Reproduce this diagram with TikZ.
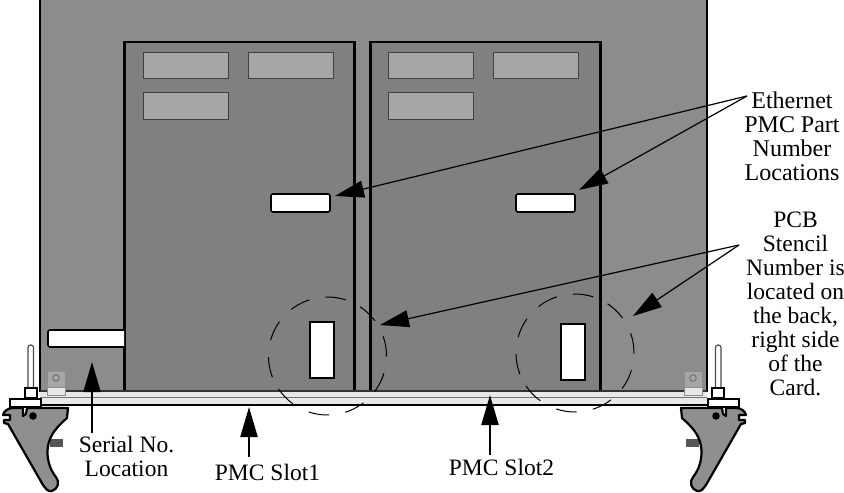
\documentclass[tikz,border=0pt]{standalone}
\usepackage{fontspec}
\setmainfont{Liberation Serif}
\usetikzlibrary{arrows.meta}
\definecolor{boardgray}{HTML}{8C8C8C}
\definecolor{pmcgray}{HTML}{808080}
\definecolor{labelgray}{HTML}{A6A6A6}
\definecolor{barlight}{HTML}{E8E8E8}
\definecolor{handlegray}{HTML}{8F8F8F}
\definecolor{tabdark}{HTML}{555555}
\tikzset{
  pmcboard/.style={fill=pmcgray,draw=black,line width=2.5pt},
  graylabel/.style={fill=labelgray,draw=black!75,line width=1pt},
  whitelabel/.style={fill=white,draw=black,line width=1.6pt,rounded corners=2pt},
  whiteslot/.style={fill=white,draw=black,line width=2pt},
  stencil/.style={draw=black,line width=1pt},
  leader/.style={line width=1.2pt,-{Triangle[length=29pt,width=17pt]}},
  upleader/.style={line width=2.2pt,-{Triangle[length=30pt,width=17pt]}},
  caption/.style={font=\fontsize{23.5}{24}\selectfont,align=center,inner sep=0pt,anchor=base},
  bigcaption/.style={font=\fontsize{24}{24}\selectfont,align=center,inner sep=0pt,anchor=base}
}
\newcommand{\handleside}{%
  \fill[tabdark] (50,439) rectangle (63,447);
  \draw[fill=white,draw=black!70,line width=1.2pt,rounded corners=2.5pt] (28,390) -- (28,345) -- (33.5,345) -- (33.5,390);
  \draw[fill=white,draw=black,line width=1.2pt] (25,388) rectangle (37,398);
  \draw[fill=white,draw=black,line width=1.2pt] (10,399) rectangle (41,407);
  \draw[fill=handlegray,draw=black,line width=2.2pt,line join=round]
    (68,408) -- (67,418) .. controls (58,426) and (50,434) .. (48,446)
    .. controls (46,458) and (50,470) .. (56,477)
    .. controls (60,482) and (58,489) .. (52,491)
    .. controls (48,492) and (46,489) .. (43,485)
    -- (8,424) -- (4,423) -- (4,420) -- (10,420) -- (10,415) -- (3,415)
    .. controls (4,411) and (8,408) .. (13,408) -- (23,408) -- (23,416) -- (26,414) -- (27,408) -- cycle;
  \fill[black] (33,416) circle (3.8);
  \draw[fill=labelgray,draw=black!45,line width=0.8pt] (47,371) rectangle (65,395);
  \draw[fill=barlight,draw=black!45,line width=0.8pt] (47,387) rectangle (65,395);
  \draw[draw=black!60,line width=0.8pt] (56,378) circle (3.3);
}
\newcommand{\stencilring}[2]{%
  \foreach \a in {92,56.5,19.5,-17,-52.5,-88.5,-126,-159,164.5,128}{
    \draw[stencil] plot[domain=\a:\a-20,samples=9,smooth] ({#1+59*cos(\x)},{#2-59*sin(\x)});
  }
}
\begin{document}
\begin{tikzpicture}[x=1pt,y=-1pt]
  \useasboundingbox (0,0) rectangle (844,493);
  % card
  \fill[boardgray] (40,-2) rectangle (707,391);
  \draw[black,line width=2.8pt] (40,-2) -- (40,392);
  \draw[black,line width=2.8pt] (707,-2) -- (707,392);
  % PMC outlines
  \draw[pmcboard] (124.5,42) rectangle (354.5,391);
  \draw[pmcboard] (370.5,42) rectangle (600.5,391);
  \foreach \dx in {0,245}{
    \draw[graylabel] (143+\dx,52) rectangle (228+\dx,78);
    \draw[graylabel] (248+\dx,52) rectangle (333+\dx,78);
    \draw[graylabel] (143+\dx,92) rectangle (228+\dx,119);
    \draw[whitelabel] (271+\dx,194) rectangle (330+\dx,212);
  }
  \draw[whiteslot] (310,322) rectangle (334,378);
  \draw[whiteslot] (561,324) rectangle (585,380);
  \draw[whitelabel] (124,347) -- (48,347) -- (48,330) -- (124,330);
  % bar
  \fill[barlight] (40,391) rectangle (707,405);
  \draw[black!55,line width=1.2pt] (40,397.5) -- (707,397.5);
  \draw[black!80,line width=1.2pt] (40,391) -- (707,391);
  \draw[black,line width=2.8pt] (39,405) -- (708,405);
  % stencil circles
  \stencilring{327.5}{356}
  \stencilring{575}{353}
  % handles
  \handleside
  \begin{scope}[xshift=749pt,xscale=-1]
    \handleside
  \end{scope}
  % captions
  \node[bigcaption] (ether) at (792,180) {Ethernet\\PMC Part\\Number\\Locations};
  \node[caption] (pcb) at (795.5,395) {PCB\\Stencil\\Number is\\located on\\the back,\\right side\\of the\\Card.};
  \node[caption] (serial) at (126.5,476) {Serial No.\\Location};
  \node[caption] (slota) at (267.5,480) {PMC Slot1};
  \node[caption] (slotb) at (501.5,475) {PMC Slot2};
  % leaders
  \coordinate (ejoin) at (747,96);
  \coordinate (pjoin) at (739,245);
  \coordinate (etipa) at (335,196);
  \coordinate (etipb) at (579,190);
  \coordinate (ptipa) at (380,325);
  \coordinate (ptipb) at (633,316);
  \coordinate (stail) at (92,433);
  \coordinate (stip) at (92,362);
  \coordinate (atail) at (249,457);
  \coordinate (atip) at (249,407);
  \coordinate (btail) at (490,455);
  \coordinate (btip) at (490,395);
  \draw[leader] (ejoin) -- (etipa);
  \draw[leader] (ejoin) -- (etipb);
  \draw[leader] (pjoin) -- (ptipa);
  \draw[leader] (pjoin) -- (ptipb);
  \draw[upleader] (stail) -- (stip);
  \draw[upleader] (atail) -- (atip);
  \draw[upleader] (btail) -- (btip);
\end{tikzpicture}
\end{document}
